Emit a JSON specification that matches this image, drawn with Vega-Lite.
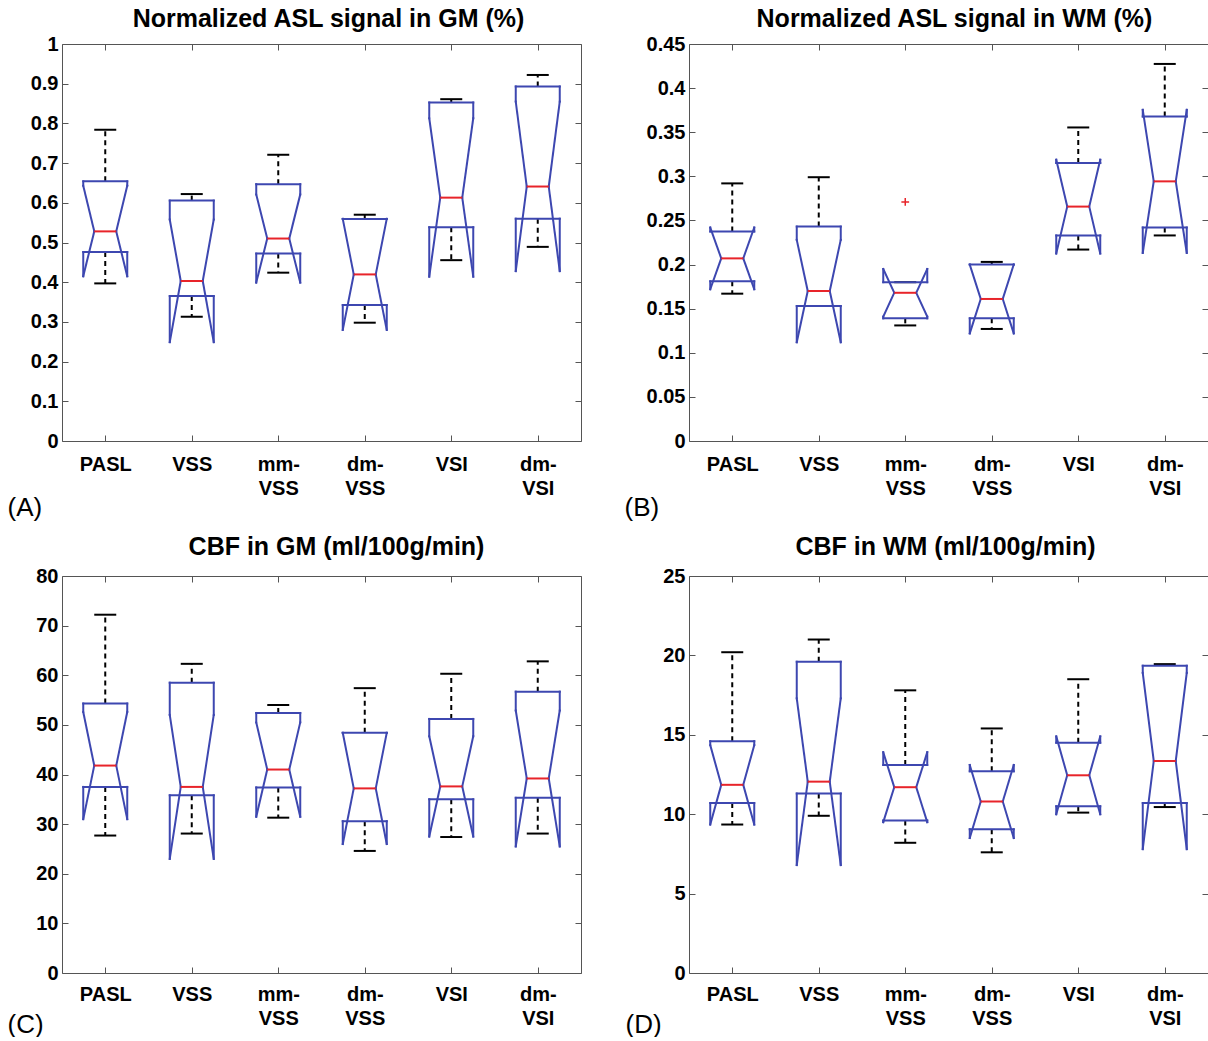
{
"$schema":"https://vega.github.io/schema/vega-lite/v6.json",
"padding":{"left":7,"top":7,"right":0,"bottom":0},
"background":"white",
"datasets":{
"stats":[
{"p":"A","g":"PASL","i":1,"lo":0.397,"q1":0.476,"nlo":0.415,"med":0.528,"nhi":0.643,"q3":0.654,"hi":0.784},
{"p":"A","g":"VSS","i":2,"lo":0.313,"q1":0.365,"nlo":0.249,"med":0.403,"nhi":0.558,"q3":0.6055,"hi":0.622},
{"p":"A","g":"mm-VSS","i":3,"lo":0.424,"q1":0.472,"nlo":0.399,"med":0.51,"nhi":0.621,"q3":0.647,"hi":0.721},
{"p":"A","g":"dm-VSS","i":4,"lo":0.298,"q1":0.3425,"nlo":0.28,"med":0.4196,"nhi":0.5595,"q3":0.5595,"hi":0.57},
{"p":"A","g":"VSI","i":5,"lo":0.4555,"q1":0.5385,"nlo":0.414,"med":0.613,"nhi":0.813,"q3":0.8526,"hi":0.861},
{"p":"A","g":"dm-VSI","i":6,"lo":0.489,"q1":0.56,"nlo":0.428,"med":0.641,"nhi":0.855,"q3":0.893,"hi":0.922},
{"p":"B","g":"PASL","i":1,"lo":0.167,"q1":0.181,"nlo":0.172,"med":0.207,"nhi":0.242,"q3":0.2375,"hi":0.292},
{"p":"B","g":"VSS","i":2,"lo":0.153,"q1":0.153,"nlo":0.112,"med":0.17,"nhi":0.228,"q3":0.243,"hi":0.299},
{"p":"B","g":"mm-VSS","i":3,"lo":0.131,"q1":0.139,"nlo":0.141,"med":0.168,"nhi":0.195,"q3":0.18,"hi":0.18},
{"p":"B","g":"dm-VSS","i":4,"lo":0.127,"q1":0.139,"nlo":0.122,"med":0.161,"nhi":0.2,"q3":0.2,"hi":0.203},
{"p":"B","g":"VSI","i":5,"lo":0.217,"q1":0.233,"nlo":0.2126,"med":0.2657,"nhi":0.3188,"q3":0.3151,"hi":0.3554},
{"p":"B","g":"dm-VSI","i":6,"lo":0.233,"q1":0.242,"nlo":0.2132,"med":0.2943,"nhi":0.3754,"q3":0.3678,"hi":0.4274},
{"p":"C","g":"PASL","i":1,"lo":27.7,"q1":37.5,"nlo":31.0,"med":41.8,"nhi":52.6,"q3":54.3,"hi":72.2},
{"p":"C","g":"VSS","i":2,"lo":28.1,"q1":35.8,"nlo":23.0,"med":37.5,"nhi":52.0,"q3":58.5,"hi":62.3},
{"p":"C","g":"mm-VSS","i":3,"lo":31.3,"q1":37.4,"nlo":31.5,"med":41.0,"nhi":50.5,"q3":52.4,"hi":54.0},
{"p":"C","g":"dm-VSS","i":4,"lo":24.6,"q1":30.6,"nlo":26.0,"med":37.2,"nhi":48.4,"q3":48.4,"hi":57.4},
{"p":"C","g":"VSI","i":5,"lo":27.4,"q1":35.0,"nlo":27.5,"med":37.6,"nhi":47.7,"q3":51.2,"hi":60.3},
{"p":"C","g":"dm-VSI","i":6,"lo":28.1,"q1":35.3,"nlo":25.5,"med":39.2,"nhi":52.9,"q3":56.7,"hi":62.8},
{"p":"D","g":"PASL","i":1,"lo":9.35,"q1":10.7,"nlo":9.35,"med":11.85,"nhi":14.35,"q3":14.6,"hi":20.2},
{"p":"D","g":"VSS","i":2,"lo":9.9,"q1":11.3,"nlo":6.8,"med":12.05,"nhi":17.3,"q3":19.6,"hi":21.0},
{"p":"D","g":"mm-VSS","i":3,"lo":8.2,"q1":9.6,"nlo":9.5,"med":11.7,"nhi":13.9,"q3":13.1,"hi":17.8},
{"p":"D","g":"dm-VSS","i":4,"lo":7.6,"q1":9.05,"nlo":8.5,"med":10.8,"nhi":13.1,"q3":12.7,"hi":15.4},
{"p":"D","g":"VSI","i":5,"lo":10.1,"q1":10.5,"nlo":10.0,"med":12.45,"nhi":14.9,"q3":14.5,"hi":18.5},
{"p":"D","g":"dm-VSI","i":6,"lo":10.45,"q1":10.7,"nlo":7.8,"med":13.35,"nhi":18.9,"q3":19.35,"hi":19.45}
],
"out":[{"p":"B","g":"mm-VSS","i":3,"v":0.271}]
},
"config":{
"view":{"stroke":null},
"axis":{"domainColor":"#555","tickColor":"#555","domainWidth":1,"tickWidth":1,"grid":false,"labelFont":"Liberation Sans","labelFontSize":20,"labelFontWeight":"bold","labelColor":"#000","labelFlush":false,"labelOverlap":false,"labelBound":false,"titleFont":"Liberation Sans","titleFontWeight":"normal","titleFontSize":26,"titleColor":"#000"},
"title":{"font":"Liberation Sans","fontSize":25,"fontWeight":"bold","color":"#000","frame":"group","baseline":"alphabetic","anchor":"middle"}
},
"columns":2,
"spacing":{"row":135,"column":108},
"bounds":"flush",
"concat":[
{"width":519,"height":397,
"title":{"text":"Normalized ASL signal in GM (%)","offset":2,"dx":7},
"data":{"name":"stats"},"transform":[{"filter":"datum.p==='A'"}],
"encoding":{"x":{"field":"i","type":"quantitative","axis":null}},
"resolve":{"axis":{"x":"independent","y":"independent"}},
"layer":[
{"mark":{"type":"point","opacity":0},"encoding":{"x":{"field":"i","type":"quantitative","scale":{"domain":[0.5,6.5],"nice":false,"zero":false},"axis":{"orient":"bottom","values":[1,2,3,4,5,6],"labelExpr":"datum.value==1?'PASL':datum.value==2?'VSS':datum.value==3?['mm-','VSS']:datum.value==4?['dm-','VSS']:datum.value==5?'VSI':['dm-','VSI']","ticks":false,"labelPadding":13,"labelBaseline":"top","labelLineHeight":24,"title":"(A)","titleX":-55,"titleY":74,"titleAlign":"left","titleBaseline":"alphabetic"}},"y":{"field":"med","type":"quantitative","scale":{"domain":[0,1],"nice":false,"zero":false},"axis":{"orient":"left","values":[0,0.1,0.2,0.3,0.4,0.5,0.6,0.7,0.8,0.9,1],"labelExpr":"''+datum.value","ticks":false,"labelPadding":4,"title":null}}}},
{"mark":{"type":"point","opacity":0},"encoding":{"x":{"field":"i","type":"quantitative","axis":{"orient":"top","values":[1,2,3,4,5,6],"labels":false,"tickSize":-6,"title":null}},"y":{"field":"med","type":"quantitative","axis":{"orient":"right","values":[0,0.1,0.2,0.3,0.4,0.5,0.6,0.7,0.8,0.9,1],"labels":false,"tickSize":-6,"title":null}}}},
{"mark":{"type":"point","opacity":0},"encoding":{"x":{"field":"i","type":"quantitative","axis":{"orient":"bottom","values":[1,2,3,4,5,6],"labels":false,"domain":false,"tickSize":-6,"title":null}},"y":{"field":"med","type":"quantitative","axis":{"orient":"left","values":[0,0.1,0.2,0.3,0.4,0.5,0.6,0.7,0.8,0.9,1],"labels":false,"domain":false,"tickSize":-6,"title":null}}}},
{"mark":{"type":"rule","color":"#000","strokeWidth":2,"strokeDash":[5,4]},"encoding":{"y":{"field":"q3","type":"quantitative","axis":null},"y2":{"field":"hi"}}},
{"mark":{"type":"rule","color":"#000","strokeWidth":2,"strokeDash":[5,4]},"encoding":{"y":{"field":"q1","type":"quantitative","axis":null},"y2":{"field":"lo"}}},
{"mark":{"type":"rule","color":"#000","strokeWidth":2,"xOffset":-11,"x2Offset":11},"encoding":{"x2":{"field":"i"},"y":{"field":"hi","type":"quantitative","axis":null}}},
{"mark":{"type":"rule","color":"#000","strokeWidth":2,"xOffset":-11,"x2Offset":11},"encoding":{"x2":{"field":"i"},"y":{"field":"lo","type":"quantitative","axis":null}}},
{"mark":{"type":"rule","color":"#3d47b0","strokeWidth":2,"strokeCap":"square","xOffset":-22,"x2Offset":22},"encoding":{"x2":{"field":"i"},"y":{"field":"q3","type":"quantitative","axis":null}}},
{"mark":{"type":"rule","color":"#3d47b0","strokeWidth":2,"strokeCap":"square","xOffset":-22,"x2Offset":22},"encoding":{"x2":{"field":"i"},"y":{"field":"q1","type":"quantitative","axis":null}}},
{"mark":{"type":"rule","color":"#3d47b0","strokeWidth":2,"strokeCap":"square","xOffset":-22},"encoding":{"y":{"field":"q3","type":"quantitative","axis":null},"y2":{"field":"nhi"}}},
{"mark":{"type":"rule","color":"#3d47b0","strokeWidth":2,"strokeCap":"square","xOffset":22},"encoding":{"y":{"field":"q3","type":"quantitative","axis":null},"y2":{"field":"nhi"}}},
{"mark":{"type":"rule","color":"#3d47b0","strokeWidth":2,"strokeCap":"square","xOffset":-22},"encoding":{"y":{"field":"nlo","type":"quantitative","axis":null},"y2":{"field":"q1"}}},
{"mark":{"type":"rule","color":"#3d47b0","strokeWidth":2,"strokeCap":"square","xOffset":22},"encoding":{"y":{"field":"nlo","type":"quantitative","axis":null},"y2":{"field":"q1"}}},
{"mark":{"type":"rule","color":"#3d47b0","strokeWidth":2,"strokeCap":"square","xOffset":-22,"x2Offset":-11},"encoding":{"x2":{"field":"i"},"y":{"field":"nhi","type":"quantitative","axis":null},"y2":{"field":"med"}}},
{"mark":{"type":"rule","color":"#3d47b0","strokeWidth":2,"strokeCap":"square","xOffset":22,"x2Offset":11},"encoding":{"x2":{"field":"i"},"y":{"field":"nhi","type":"quantitative","axis":null},"y2":{"field":"med"}}},
{"mark":{"type":"rule","color":"#3d47b0","strokeWidth":2,"strokeCap":"square","xOffset":-22,"x2Offset":-11},"encoding":{"x2":{"field":"i"},"y":{"field":"nlo","type":"quantitative","axis":null},"y2":{"field":"med"}}},
{"mark":{"type":"rule","color":"#3d47b0","strokeWidth":2,"strokeCap":"square","xOffset":22,"x2Offset":11},"encoding":{"x2":{"field":"i"},"y":{"field":"nlo","type":"quantitative","axis":null},"y2":{"field":"med"}}},
{"mark":{"type":"rule","color":"#e8242a","strokeWidth":2,"xOffset":-11,"x2Offset":11},"encoding":{"x2":{"field":"i"},"y":{"field":"med","type":"quantitative","axis":null}}}
]},
{"width":519,"height":397,
"title":{"text":"Normalized ASL signal in WM (%)","offset":2,"dx":6},
"data":{"name":"stats"},"transform":[{"filter":"datum.p==='B'"}],
"encoding":{"x":{"field":"i","type":"quantitative","axis":null}},
"resolve":{"axis":{"x":"independent","y":"independent"}},
"layer":[
{"mark":{"type":"point","opacity":0},"encoding":{"x":{"field":"i","type":"quantitative","scale":{"domain":[0.5,6.5],"nice":false,"zero":false},"axis":{"orient":"bottom","values":[1,2,3,4,5,6],"labelExpr":"datum.value==1?'PASL':datum.value==2?'VSS':datum.value==3?['mm-','VSS']:datum.value==4?['dm-','VSS']:datum.value==5?'VSI':['dm-','VSI']","ticks":false,"labelPadding":13,"labelBaseline":"top","labelLineHeight":24,"title":"(B)","titleX":-65,"titleY":74,"titleAlign":"left","titleBaseline":"alphabetic"}},"y":{"field":"med","type":"quantitative","scale":{"domain":[0,0.45],"nice":false,"zero":false},"axis":{"orient":"left","values":[0,0.05,0.1,0.15,0.2,0.25,0.3,0.35,0.4,0.45],"labelExpr":"''+datum.value","ticks":false,"labelPadding":4,"title":null}}}},
{"mark":{"type":"point","opacity":0},"encoding":{"x":{"field":"i","type":"quantitative","axis":{"orient":"top","values":[1,2,3,4,5,6],"labels":false,"tickSize":-6,"title":null}},"y":{"field":"med","type":"quantitative","axis":{"orient":"right","values":[0,0.05,0.1,0.15,0.2,0.25,0.3,0.35,0.4,0.45],"labels":false,"tickSize":-6,"title":null}}}},
{"mark":{"type":"point","opacity":0},"encoding":{"x":{"field":"i","type":"quantitative","axis":{"orient":"bottom","values":[1,2,3,4,5,6],"labels":false,"domain":false,"tickSize":-6,"title":null}},"y":{"field":"med","type":"quantitative","axis":{"orient":"left","values":[0,0.05,0.1,0.15,0.2,0.25,0.3,0.35,0.4,0.45],"labels":false,"domain":false,"tickSize":-6,"title":null}}}},
{"mark":{"type":"rule","color":"#000","strokeWidth":2,"strokeDash":[5,4]},"encoding":{"y":{"field":"q3","type":"quantitative","axis":null},"y2":{"field":"hi"}}},
{"mark":{"type":"rule","color":"#000","strokeWidth":2,"strokeDash":[5,4]},"encoding":{"y":{"field":"q1","type":"quantitative","axis":null},"y2":{"field":"lo"}}},
{"mark":{"type":"rule","color":"#000","strokeWidth":2,"xOffset":-11,"x2Offset":11},"encoding":{"x2":{"field":"i"},"y":{"field":"hi","type":"quantitative","axis":null}}},
{"mark":{"type":"rule","color":"#000","strokeWidth":2,"xOffset":-11,"x2Offset":11},"encoding":{"x2":{"field":"i"},"y":{"field":"lo","type":"quantitative","axis":null}}},
{"mark":{"type":"rule","color":"#3d47b0","strokeWidth":2,"strokeCap":"square","xOffset":-22,"x2Offset":22},"encoding":{"x2":{"field":"i"},"y":{"field":"q3","type":"quantitative","axis":null}}},
{"mark":{"type":"rule","color":"#3d47b0","strokeWidth":2,"strokeCap":"square","xOffset":-22,"x2Offset":22},"encoding":{"x2":{"field":"i"},"y":{"field":"q1","type":"quantitative","axis":null}}},
{"mark":{"type":"rule","color":"#3d47b0","strokeWidth":2,"strokeCap":"square","xOffset":-22},"encoding":{"y":{"field":"q3","type":"quantitative","axis":null},"y2":{"field":"nhi"}}},
{"mark":{"type":"rule","color":"#3d47b0","strokeWidth":2,"strokeCap":"square","xOffset":22},"encoding":{"y":{"field":"q3","type":"quantitative","axis":null},"y2":{"field":"nhi"}}},
{"mark":{"type":"rule","color":"#3d47b0","strokeWidth":2,"strokeCap":"square","xOffset":-22},"encoding":{"y":{"field":"nlo","type":"quantitative","axis":null},"y2":{"field":"q1"}}},
{"mark":{"type":"rule","color":"#3d47b0","strokeWidth":2,"strokeCap":"square","xOffset":22},"encoding":{"y":{"field":"nlo","type":"quantitative","axis":null},"y2":{"field":"q1"}}},
{"mark":{"type":"rule","color":"#3d47b0","strokeWidth":2,"strokeCap":"square","xOffset":-22,"x2Offset":-11},"encoding":{"x2":{"field":"i"},"y":{"field":"nhi","type":"quantitative","axis":null},"y2":{"field":"med"}}},
{"mark":{"type":"rule","color":"#3d47b0","strokeWidth":2,"strokeCap":"square","xOffset":22,"x2Offset":11},"encoding":{"x2":{"field":"i"},"y":{"field":"nhi","type":"quantitative","axis":null},"y2":{"field":"med"}}},
{"mark":{"type":"rule","color":"#3d47b0","strokeWidth":2,"strokeCap":"square","xOffset":-22,"x2Offset":-11},"encoding":{"x2":{"field":"i"},"y":{"field":"nlo","type":"quantitative","axis":null},"y2":{"field":"med"}}},
{"mark":{"type":"rule","color":"#3d47b0","strokeWidth":2,"strokeCap":"square","xOffset":22,"x2Offset":11},"encoding":{"x2":{"field":"i"},"y":{"field":"nlo","type":"quantitative","axis":null},"y2":{"field":"med"}}},
{"mark":{"type":"rule","color":"#e8242a","strokeWidth":2,"xOffset":-11,"x2Offset":11},"encoding":{"x2":{"field":"i"},"y":{"field":"med","type":"quantitative","axis":null}}},
{"data":{"name":"out"},"mark":{"type":"point","shape":"M-1,0L1,0M0,-1L0,1","filled":false,"color":"#e8242a","strokeWidth":1.5,"size":60,"opacity":1},"encoding":{"y":{"field":"v","type":"quantitative","axis":null}}}
]},
{"width":519,"height":397,
"title":{"text":"CBF in GM (ml/100g/min)","offset":6,"dx":15},
"data":{"name":"stats"},"transform":[{"filter":"datum.p==='C'"}],
"encoding":{"x":{"field":"i","type":"quantitative","axis":null}},
"resolve":{"axis":{"x":"independent","y":"independent"}},
"layer":[
{"mark":{"type":"point","opacity":0},"encoding":{"x":{"field":"i","type":"quantitative","scale":{"domain":[0.5,6.5],"nice":false,"zero":false},"axis":{"orient":"bottom","values":[1,2,3,4,5,6],"labelExpr":"datum.value==1?'PASL':datum.value==2?'VSS':datum.value==3?['mm-','VSS']:datum.value==4?['dm-','VSS']:datum.value==5?'VSI':['dm-','VSI']","ticks":false,"labelPadding":11,"labelBaseline":"top","labelLineHeight":24,"title":"(C)","titleX":-55,"titleY":59,"titleAlign":"left","titleBaseline":"alphabetic"}},"y":{"field":"med","type":"quantitative","scale":{"domain":[0,80],"nice":false,"zero":false},"axis":{"orient":"left","values":[0,10,20,30,40,50,60,70,80],"labelExpr":"''+datum.value","ticks":false,"labelPadding":4,"title":null}}}},
{"mark":{"type":"point","opacity":0},"encoding":{"x":{"field":"i","type":"quantitative","axis":{"orient":"top","values":[1,2,3,4,5,6],"labels":false,"tickSize":-6,"title":null}},"y":{"field":"med","type":"quantitative","axis":{"orient":"right","values":[0,10,20,30,40,50,60,70,80],"labels":false,"tickSize":-6,"title":null}}}},
{"mark":{"type":"point","opacity":0},"encoding":{"x":{"field":"i","type":"quantitative","axis":{"orient":"bottom","values":[1,2,3,4,5,6],"labels":false,"domain":false,"tickSize":-6,"title":null}},"y":{"field":"med","type":"quantitative","axis":{"orient":"left","values":[0,10,20,30,40,50,60,70,80],"labels":false,"domain":false,"tickSize":-6,"title":null}}}},
{"mark":{"type":"rule","color":"#000","strokeWidth":2,"strokeDash":[5,4]},"encoding":{"y":{"field":"q3","type":"quantitative","axis":null},"y2":{"field":"hi"}}},
{"mark":{"type":"rule","color":"#000","strokeWidth":2,"strokeDash":[5,4]},"encoding":{"y":{"field":"q1","type":"quantitative","axis":null},"y2":{"field":"lo"}}},
{"mark":{"type":"rule","color":"#000","strokeWidth":2,"xOffset":-11,"x2Offset":11},"encoding":{"x2":{"field":"i"},"y":{"field":"hi","type":"quantitative","axis":null}}},
{"mark":{"type":"rule","color":"#000","strokeWidth":2,"xOffset":-11,"x2Offset":11},"encoding":{"x2":{"field":"i"},"y":{"field":"lo","type":"quantitative","axis":null}}},
{"mark":{"type":"rule","color":"#3d47b0","strokeWidth":2,"strokeCap":"square","xOffset":-22,"x2Offset":22},"encoding":{"x2":{"field":"i"},"y":{"field":"q3","type":"quantitative","axis":null}}},
{"mark":{"type":"rule","color":"#3d47b0","strokeWidth":2,"strokeCap":"square","xOffset":-22,"x2Offset":22},"encoding":{"x2":{"field":"i"},"y":{"field":"q1","type":"quantitative","axis":null}}},
{"mark":{"type":"rule","color":"#3d47b0","strokeWidth":2,"strokeCap":"square","xOffset":-22},"encoding":{"y":{"field":"q3","type":"quantitative","axis":null},"y2":{"field":"nhi"}}},
{"mark":{"type":"rule","color":"#3d47b0","strokeWidth":2,"strokeCap":"square","xOffset":22},"encoding":{"y":{"field":"q3","type":"quantitative","axis":null},"y2":{"field":"nhi"}}},
{"mark":{"type":"rule","color":"#3d47b0","strokeWidth":2,"strokeCap":"square","xOffset":-22},"encoding":{"y":{"field":"nlo","type":"quantitative","axis":null},"y2":{"field":"q1"}}},
{"mark":{"type":"rule","color":"#3d47b0","strokeWidth":2,"strokeCap":"square","xOffset":22},"encoding":{"y":{"field":"nlo","type":"quantitative","axis":null},"y2":{"field":"q1"}}},
{"mark":{"type":"rule","color":"#3d47b0","strokeWidth":2,"strokeCap":"square","xOffset":-22,"x2Offset":-11},"encoding":{"x2":{"field":"i"},"y":{"field":"nhi","type":"quantitative","axis":null},"y2":{"field":"med"}}},
{"mark":{"type":"rule","color":"#3d47b0","strokeWidth":2,"strokeCap":"square","xOffset":22,"x2Offset":11},"encoding":{"x2":{"field":"i"},"y":{"field":"nhi","type":"quantitative","axis":null},"y2":{"field":"med"}}},
{"mark":{"type":"rule","color":"#3d47b0","strokeWidth":2,"strokeCap":"square","xOffset":-22,"x2Offset":-11},"encoding":{"x2":{"field":"i"},"y":{"field":"nlo","type":"quantitative","axis":null},"y2":{"field":"med"}}},
{"mark":{"type":"rule","color":"#3d47b0","strokeWidth":2,"strokeCap":"square","xOffset":22,"x2Offset":11},"encoding":{"x2":{"field":"i"},"y":{"field":"nlo","type":"quantitative","axis":null},"y2":{"field":"med"}}},
{"mark":{"type":"rule","color":"#e8242a","strokeWidth":2,"xOffset":-11,"x2Offset":11},"encoding":{"x2":{"field":"i"},"y":{"field":"med","type":"quantitative","axis":null}}}
]},
{"width":519,"height":397,
"title":{"text":"CBF in WM (ml/100g/min)","offset":6,"dx":-3},
"data":{"name":"stats"},"transform":[{"filter":"datum.p==='D'"}],
"encoding":{"x":{"field":"i","type":"quantitative","axis":null}},
"resolve":{"axis":{"x":"independent","y":"independent"}},
"layer":[
{"mark":{"type":"point","opacity":0},"encoding":{"x":{"field":"i","type":"quantitative","scale":{"domain":[0.5,6.5],"nice":false,"zero":false},"axis":{"orient":"bottom","values":[1,2,3,4,5,6],"labelExpr":"datum.value==1?'PASL':datum.value==2?'VSS':datum.value==3?['mm-','VSS']:datum.value==4?['dm-','VSS']:datum.value==5?'VSI':['dm-','VSI']","ticks":false,"labelPadding":11,"labelBaseline":"top","labelLineHeight":24,"title":"(D)","titleX":-64,"titleY":59,"titleAlign":"left","titleBaseline":"alphabetic"}},"y":{"field":"med","type":"quantitative","scale":{"domain":[0,25],"nice":false,"zero":false},"axis":{"orient":"left","values":[0,5,10,15,20,25],"labelExpr":"''+datum.value","ticks":false,"labelPadding":4,"title":null}}}},
{"mark":{"type":"point","opacity":0},"encoding":{"x":{"field":"i","type":"quantitative","axis":{"orient":"top","values":[1,2,3,4,5,6],"labels":false,"tickSize":-6,"title":null}},"y":{"field":"med","type":"quantitative","axis":{"orient":"right","values":[0,5,10,15,20,25],"labels":false,"tickSize":-6,"title":null}}}},
{"mark":{"type":"point","opacity":0},"encoding":{"x":{"field":"i","type":"quantitative","axis":{"orient":"bottom","values":[1,2,3,4,5,6],"labels":false,"domain":false,"tickSize":-6,"title":null}},"y":{"field":"med","type":"quantitative","axis":{"orient":"left","values":[0,5,10,15,20,25],"labels":false,"domain":false,"tickSize":-6,"title":null}}}},
{"mark":{"type":"rule","color":"#000","strokeWidth":2,"strokeDash":[5,4]},"encoding":{"y":{"field":"q3","type":"quantitative","axis":null},"y2":{"field":"hi"}}},
{"mark":{"type":"rule","color":"#000","strokeWidth":2,"strokeDash":[5,4]},"encoding":{"y":{"field":"q1","type":"quantitative","axis":null},"y2":{"field":"lo"}}},
{"mark":{"type":"rule","color":"#000","strokeWidth":2,"xOffset":-11,"x2Offset":11},"encoding":{"x2":{"field":"i"},"y":{"field":"hi","type":"quantitative","axis":null}}},
{"mark":{"type":"rule","color":"#000","strokeWidth":2,"xOffset":-11,"x2Offset":11},"encoding":{"x2":{"field":"i"},"y":{"field":"lo","type":"quantitative","axis":null}}},
{"mark":{"type":"rule","color":"#3d47b0","strokeWidth":2,"strokeCap":"square","xOffset":-22,"x2Offset":22},"encoding":{"x2":{"field":"i"},"y":{"field":"q3","type":"quantitative","axis":null}}},
{"mark":{"type":"rule","color":"#3d47b0","strokeWidth":2,"strokeCap":"square","xOffset":-22,"x2Offset":22},"encoding":{"x2":{"field":"i"},"y":{"field":"q1","type":"quantitative","axis":null}}},
{"mark":{"type":"rule","color":"#3d47b0","strokeWidth":2,"strokeCap":"square","xOffset":-22},"encoding":{"y":{"field":"q3","type":"quantitative","axis":null},"y2":{"field":"nhi"}}},
{"mark":{"type":"rule","color":"#3d47b0","strokeWidth":2,"strokeCap":"square","xOffset":22},"encoding":{"y":{"field":"q3","type":"quantitative","axis":null},"y2":{"field":"nhi"}}},
{"mark":{"type":"rule","color":"#3d47b0","strokeWidth":2,"strokeCap":"square","xOffset":-22},"encoding":{"y":{"field":"nlo","type":"quantitative","axis":null},"y2":{"field":"q1"}}},
{"mark":{"type":"rule","color":"#3d47b0","strokeWidth":2,"strokeCap":"square","xOffset":22},"encoding":{"y":{"field":"nlo","type":"quantitative","axis":null},"y2":{"field":"q1"}}},
{"mark":{"type":"rule","color":"#3d47b0","strokeWidth":2,"strokeCap":"square","xOffset":-22,"x2Offset":-11},"encoding":{"x2":{"field":"i"},"y":{"field":"nhi","type":"quantitative","axis":null},"y2":{"field":"med"}}},
{"mark":{"type":"rule","color":"#3d47b0","strokeWidth":2,"strokeCap":"square","xOffset":22,"x2Offset":11},"encoding":{"x2":{"field":"i"},"y":{"field":"nhi","type":"quantitative","axis":null},"y2":{"field":"med"}}},
{"mark":{"type":"rule","color":"#3d47b0","strokeWidth":2,"strokeCap":"square","xOffset":-22,"x2Offset":-11},"encoding":{"x2":{"field":"i"},"y":{"field":"nlo","type":"quantitative","axis":null},"y2":{"field":"med"}}},
{"mark":{"type":"rule","color":"#3d47b0","strokeWidth":2,"strokeCap":"square","xOffset":22,"x2Offset":11},"encoding":{"x2":{"field":"i"},"y":{"field":"nlo","type":"quantitative","axis":null},"y2":{"field":"med"}}},
{"mark":{"type":"rule","color":"#e8242a","strokeWidth":2,"xOffset":-11,"x2Offset":11},"encoding":{"x2":{"field":"i"},"y":{"field":"med","type":"quantitative","axis":null}}}
]}
]
}
